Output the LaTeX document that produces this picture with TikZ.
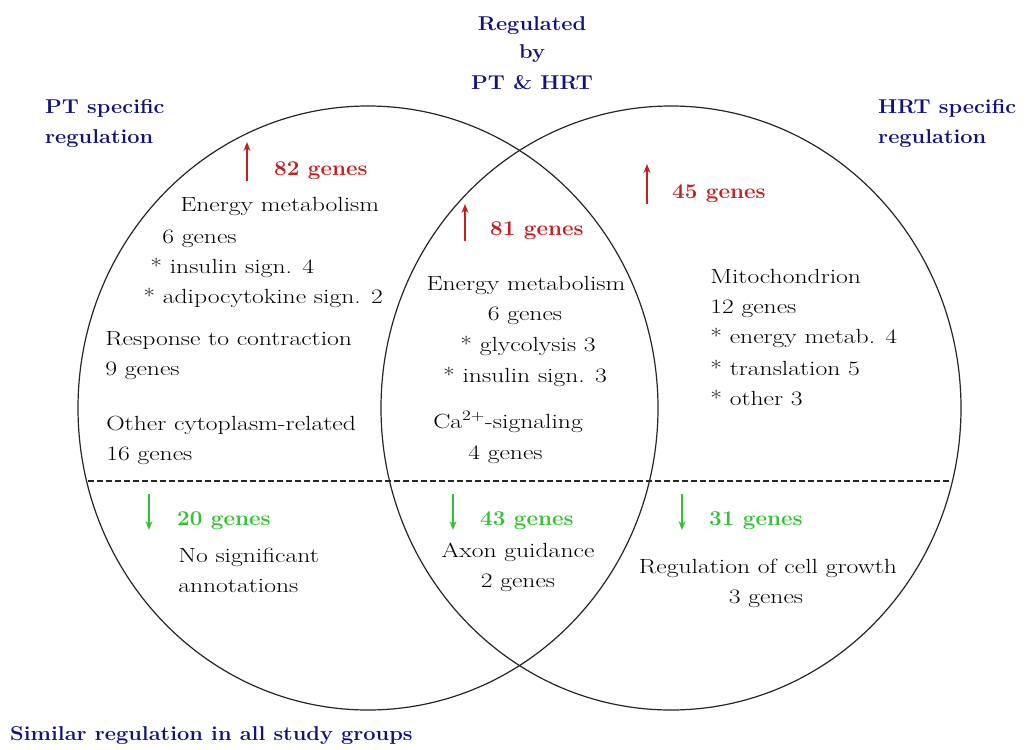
\documentclass[tikz,border=0pt]{standalone}
\usetikzlibrary{arrows.meta}
\definecolor{navyblue}{RGB}{18,18,125}
\definecolor{upred}{RGB}{195,32,32}
\definecolor{downgreen}{RGB}{50,195,50}
\begin{document}
\begin{tikzpicture}[x=1pt,y=-1pt,
  body/.style={xscale=1.25, transform shape, font=\fontsize{20.5}{24}\selectfont, inner sep=0pt, anchor=base west, text=black},
  bodyc/.style={body, anchor=base},
  head/.style={xscale=1.09, transform shape, font=\fontsize{20}{24}\selectfont\bfseries, inner sep=0pt, anchor=base west, text=navyblue},
  headc/.style={head, anchor=base},
  upcount/.style={xscale=1.07, transform shape, font=\fontsize{21}{24}\selectfont\bfseries, inner sep=0pt, anchor=base west, text=upred},
  downcount/.style={upcount, text=downgreen},
  uparrow/.style={draw=upred, line width=1.3pt, -{Stealth[length=9pt,width=7pt]}},
  downarrow/.style={draw=downgreen, line width=1.3pt, -{Stealth[length=9pt,width=7pt]}},
  circ/.style={draw=black!85, line width=1.2pt},
  divider/.style={draw=black!85, line width=1.1pt, dash pattern=on 6pt off 3pt}]
\useasboundingbox[fill=white] (0,0) rectangle (1026,750);

% circles
\draw[circ] (368,408) ellipse [x radius=290pt, y radius=302pt];
\draw[circ] (671,408) ellipse [x radius=290pt, y radius=302pt];

% dashed divider
\coordinate (dl) at (88,481);
\coordinate (dr) at (952,481);
\draw[divider] (dl) -- (dr);

% headings
\node[headc] (reg1) at (532,30) {Regulated};
\node[headc] (reg2) at (532,58) {by};
\node[headc] (reg3) at (532,89) {PT \& HRT};
\node[head] (pt1) at (45,113) {PT specific};
\node[head] (pt2) at (45,143) {regulation};
\node[head] (hrt1) at (878,113) {HRT specific};
\node[head] (hrt2) at (878,143) {regulation};
\node[head] (sim) at (10,740) {Similar regulation in all study groups};

% up arrows and counts
\coordinate (u1b) at (247,181); \coordinate (u1t) at (247,142);
\draw[uparrow] (u1b) -- (u1t);
\node[upcount] (c82) at (274,175) {82 genes};
\coordinate (u2b) at (465,241); \coordinate (u2t) at (465,204);
\draw[uparrow] (u2b) -- (u2t);
\node[upcount] (c81) at (490,235) {81 genes};
\coordinate (u3b) at (647,204); \coordinate (u3t) at (647,164);
\draw[uparrow] (u3b) -- (u3t);
\node[upcount] (c45) at (672,198) {45 genes};

% down arrows and counts
\coordinate (d1t) at (149,494); \coordinate (d1b) at (149,530);
\draw[downarrow] (d1t) -- (d1b);
\node[downcount] (c20) at (177,525) {20 genes};
\coordinate (d2t) at (453,494); \coordinate (d2b) at (453,530);
\draw[downarrow] (d2t) -- (d2b);
\node[downcount] (c43) at (480,525) {43 genes};
\coordinate (d3t) at (682,494); \coordinate (d3b) at (682,530);
\draw[downarrow] (d3t) -- (d3b);
\node[downcount] (c31) at (709,525) {31 genes};

% left region
\node[body] (l1) at (180,211) {Energy metabolism};
\node[body] (l2) at (162,243) {6 genes};
\node[body] (l3) at (150,273) {* insulin sign. 4};
\node[body] (l4) at (143,303) {* adipocytokine sign. 2};
\node[body] (l5) at (105,345) {Response to contraction};
\node[body] (l6) at (105,375) {9 genes};
\node[body] (l7) at (106,430) {Other cytoplasm-related};
\node[body] (l8) at (106,460) {16 genes};
\node[body] (l9) at (178,562) {No significant};
\node[body] (l10) at (178,592) {annotations};

% middle region
\node[bodyc] (m1) at (526,290) {Energy metabolism};
\node[bodyc] (m2) at (525,320) {6 genes};
\node[bodyc] (m3) at (528,351) {* glycolysis 3};
\node[bodyc] (m4) at (525,382) {* insulin sign. 3};
\node[body] (m5) at (433,428) {Ca\textsuperscript{2+}-signaling};
\node[body] (m6) at (468,459) {4 genes};
\node[bodyc] (m7) at (518,557) {Axon guidance};
\node[bodyc] (m8) at (518,587) {2 genes};

% right region
\node[body] (r1) at (710,283) {Mitochondrion};
\node[body] (r2) at (710,313) {12 genes};
\node[body] (r3) at (710,343) {* energy metab. 4};
\node[body] (r4) at (710,375) {* translation 5};
\node[body] (r5) at (710,405) {* other 3};
\node[bodyc] (r6) at (768,573) {Regulation of cell growth};
\node[bodyc] (r7) at (766,603) {3 genes};
\end{tikzpicture}
\end{document}
